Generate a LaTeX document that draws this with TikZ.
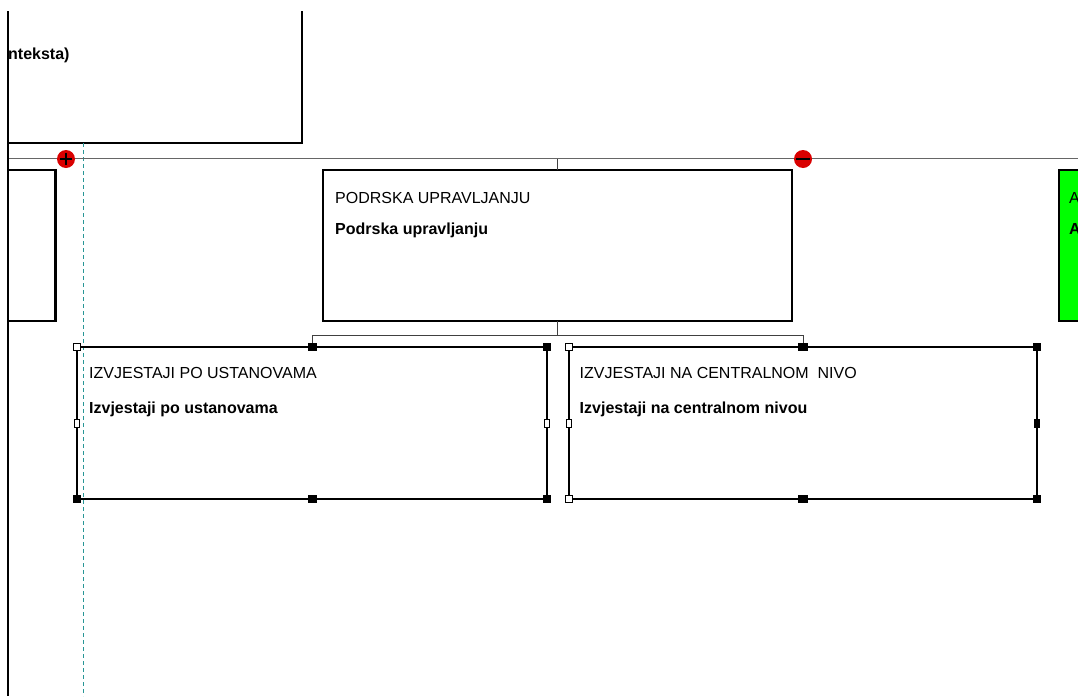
\documentclass[tikz,border=0pt]{standalone}
\usepackage{fontspec}
\setmainfont{Liberation Sans}
\begin{document}
\begin{tikzpicture}[x=1pt,y=-1pt,
  boxline/.style={draw=black, line width=2.2pt},
  pbox/.style={boxline, rectangle, inner sep=0pt, outer sep=0pt},
  conn/.style={draw=black!75, line width=1pt},
  bus/.style={draw=black!60, line width=1.6pt},
  ttl/.style={anchor=base west, inner sep=0pt, font=\fontsize{16}{18}\selectfont},
  sub/.style={anchor=base west, inner sep=0pt, font=\fontsize{16}{18}\selectfont\bfseries},
  hw/.style={draw=black, line width=1.1pt, fill=white, rectangle, inner sep=0pt, minimum width=7pt, minimum height=7pt},
  hb/.style={draw=black, line width=1.1pt, fill=black, rectangle, inner sep=0pt, minimum width=7pt, minimum height=7pt},
  hm/.style={draw=black, line width=1.1pt, fill=white, rectangle, inner sep=0pt, minimum width=8pt, minimum height=7pt, path picture={\fill[black] (path picture bounding box.north west) rectangle ([yshift=-2.5pt]path picture bounding box.east);}},
  redc/.style={circle, fill=red!85!black, inner sep=0pt, minimum size=18pt},
]
\useasboundingbox (0,0) rectangle (1078,696);
\fill[white] (0,0) rectangle (1078,696);
\begin{scope}
\clip (8,11) rectangle (1078,696);
% top box (partly off view)
\draw[boxline] (-40,-20) rectangle (302,143);
\node[sub, anchor=base west] (ctx) at (8,59) {nteksta)};
% dashed guide
\draw[draw={rgb,255:red,40;green,150;blue,150}, line width=1pt, dash pattern=on 4pt off 3pt] (83,143) -- (83,696);
% bus line
\coordinate (busL) at (8,158.5);
\coordinate (busR) at (1078,158.5);
\draw[bus] (busL) -- (busR);
% left box (partly off view)
\node[pbox, minimum width=87pt, minimum height=151pt] (lbox) at (12,245.5) {};
% green box
\node[pbox, fill={rgb,255:red,0;green,255;blue,0}, minimum width=60pt, minimum height=151pt] (gbox) at (1089,245.5) {};
\node[ttl] (gt) at (1069,203) {A};
\node[sub] (gs) at (1069,234.5) {A};
% central box
\node[pbox, minimum width=469pt, minimum height=151pt] (pod) at (557.5,245.5) {};
\node[ttl] (podt) at (335,203) {PODRSKA UPRAVLJANJU};
\node[sub] (pods) at (335,234.5) {Podrska upravljanju};
% children
\node[pbox, minimum width=470pt, minimum height=152pt] (b1) at (312.3,423.2) {};
\node[ttl] (b1t) at (89,378) {IZVJESTAJI PO USTANOVAMA};
\node[sub] (b1s) at (89,413) {Izvjestaji po ustanovama};
\node[pbox, minimum width=468pt, minimum height=152pt] (b2) at (803,423.2) {};
\node[ttl] (b2t) at (579.5,378) {IZVJESTAJI NA CENTRALNOM\ \ NIVO};
\node[sub] (b2s) at (579.5,413) {Izvjestaji na centralnom nivou};
% connectors
\draw[conn] (pod.north) -- (pod.north |- busL);
\draw[conn] (pod.south) -- ++(0,14) coordinate (jn) -| (b1.north);
\draw[conn] (jn) -| (b2.north);
% red markers on bus
\node[redc] (plus) at (66,159) {};
\draw[black, line width=1.8pt] (plus.west) ++(3,0) -- ++(12,0) (plus.north) ++(0,3) -- ++(0,12);
\node[redc] (minus) at (803,159) {};
\draw[black, line width=2pt] (minus.west) ++(2,0) -- ++(14,0);
% selection handles box 1
\node[hw] (h1a) at (b1.north west) {};
\node[hm] (h1b) at (b1.north) {};
\node[hb] (h1c) at (b1.north east) {};
\node[hw, minimum width=5pt, minimum height=8pt] (h1d) at (b1.west) {};
\node[hw, minimum width=5pt, minimum height=8pt] (h1e) at (b1.east) {};
\node[hb] (h1f) at (b1.south west) {};
\node[hm] (h1g) at (b1.south) {};
\node[hb] (h1h) at (b1.south east) {};
% selection handles box 2
\node[hw] (h2a) at (b2.north west) {};
\node[hm] (h2b) at (b2.north) {};
\node[hb] (h2c) at (b2.north east) {};
\node[hw, minimum width=5pt, minimum height=8pt] (h2d) at (b2.west) {};
\node[hb, minimum width=5pt, minimum height=8pt] (h2e) at (b2.east) {};
\node[hw] (h2f) at (b2.south west) {};
\node[hm] (h2g) at (b2.south) {};
\node[hb] (h2h) at (b2.south east) {};
\end{scope}
% view frame edge
\draw[black, line width=1.5pt] (8,11) -- (8,696);
\end{tikzpicture}
\end{document}
